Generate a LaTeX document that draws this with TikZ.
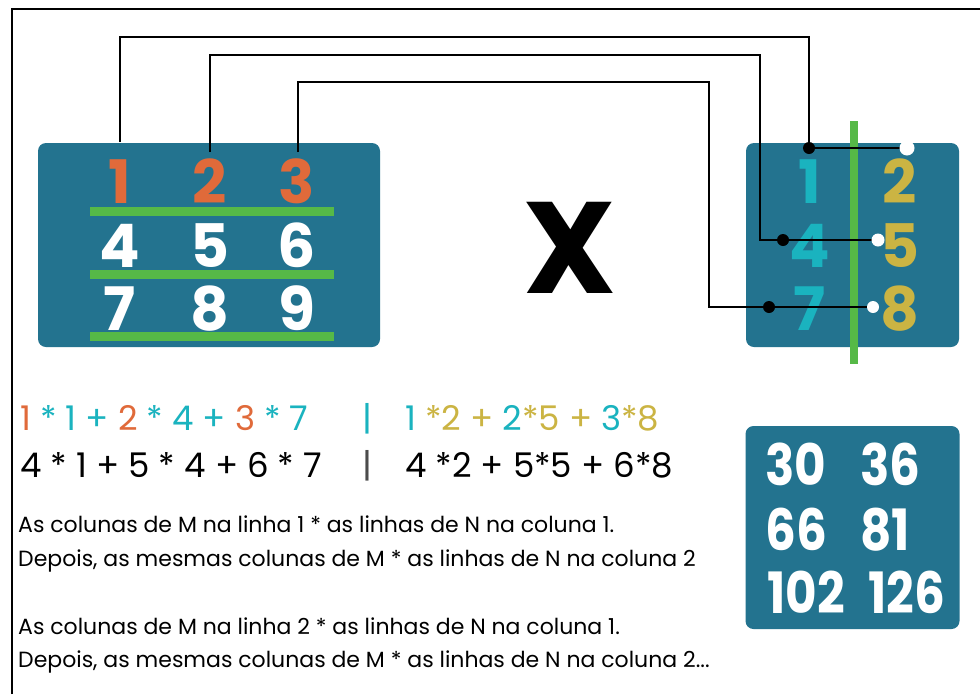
\documentclass[tikz,border=0pt]{standalone}
\usepackage{fontspec}
\setmainfont{Poppins}
\newfontfamily\numfont[FakeStretch=0.85]{Poppins}
\definecolor{boxblue}{RGB}{35,115,143}
\definecolor{org}{RGB}{224,106,58}
\definecolor{grn}{RGB}{86,185,71}
\definecolor{cy}{RGB}{26,179,191}
\definecolor{gld}{RGB}{203,180,67}
\begin{document}
\begin{tikzpicture}[x=1pt,y=-1pt,
  panel/.style={fill=boxblue,rounded corners=8pt,inner sep=0pt},
  bigdig/.style={inner sep=0pt,anchor=base,font=\fontsize{60}{60}\selectfont\bfseries},
  bar/.style={grn,line width=9pt},
  wire/.style={line width=1.3pt,black},
  bdot/.style={circle,fill=black,inner sep=0pt,minimum size=12pt},
  wdot/.style={circle,fill=white,inner sep=0pt,minimum size=13pt},
  formula/.style={inner sep=0pt,anchor=base west,font=\fontsize{34}{34}\selectfont},
  desc/.style={inner sep=0pt,anchor=base west,font=\fontsize{22}{22}\selectfont},
  res/.style={inner sep=0pt,anchor=base west,font=\numfont\fontsize{57}{57}\selectfont\bfseries,text=white}
]
\useasboundingbox (0,0) rectangle (980,694);
\fill[white] (0,0) rectangle (980,694);
\draw[line width=2pt] (12,694) -- (12,9) -- (980,9);

% left matrix
\node[panel,minimum width=342pt,minimum height=204pt] (M) at (209,245) {};
\draw[bar] (90,211) -- (334,211);
\draw[bar] (90,274) -- (334,274);
\draw[bar] (90,336) -- (334,336);
\node[bigdig,text=org] (m1) at (120,203) {1};
\node[bigdig,text=org] (m2) at (210,203) {2};
\node[bigdig,text=org] (m3) at (297,203) {3};
\node[bigdig,text=white] (m4) at (120,267) {4};
\node[bigdig,text=white] (m5) at (210,267) {5};
\node[bigdig,text=white] (m6) at (297,267) {6};
\node[bigdig,text=white] (m7) at (120,330) {7};
\node[bigdig,text=white] (m8) at (210,330) {8};
\node[bigdig,text=white] (m9) at (297,330) {9};

% times
\node[inner sep=0pt,anchor=base,font=\fontsize{130}{130}\selectfont\bfseries] (times) at (570,293) {X};

% right matrix
\node[panel,minimum width=213pt,minimum height=204pt] (N) at (852.5,245) {};
\draw[grn,line width=8pt] (854,121) -- (854,364);
\node[bigdig,text=cy] (n1) at (810,203) {1};
\node[bigdig,text=gld] (n2) at (900,203) {2};
\node[bigdig,text=cy] (n4) at (810,267) {4};
\node[bigdig,text=gld] (n5) at (900,267) {5};
\node[bigdig,text=cy] (n7) at (810,330) {7};
\node[bigdig,text=gld] (n8) at (900,330) {8};

% wires
\coordinate (s1) at (120,142);
\coordinate (s2) at (210,152);
\coordinate (s3) at (298,152);
\coordinate (t1) at (0,37);
\coordinate (t2) at (0,55);
\coordinate (t3) at (0,82);
\coordinate (k1) at (809,148);
\coordinate (k2) at (760,240);
\coordinate (k3) at (709,307);
\coordinate (w1p) at (907,148);
\coordinate (w2p) at (878,240);
\coordinate (w3p) at (873,307);
\draw[wire] (s1) -- (s1|-t1) -| (k1) -- (w1p);
\draw[wire] (s2) -- (s2|-t2) -| (k2) -- (w2p);
\draw[wire] (s3) -- (s3|-t3) -| (k3) -- (w3p);
\node[bdot] (b1) at (809,148) {};
\node[bdot] (b2) at (783,240) {};
\node[bdot] (b3) at (769,307) {};
\node[wdot,minimum size=15pt] (w1) at (w1p) {};
\node[wdot] (w2) at (w2p) {};
\node[wdot,minimum size=12pt] (w3) at (w3p) {};

% formulas
\node[formula] (f1) at (20,430) {\textcolor{org}{1}\ \textcolor{cy}{*\ 1\ +}\ \textcolor{org}{2}\ \textcolor{cy}{*\ 4\ +}\ \textcolor{org}{3}\ \textcolor{cy}{*\ 7}};
\node[formula,text=cy] (v1) at (362,430) {|};
\node[formula] (g1) at (405,430) {\textcolor{cy}{1}\ \textcolor{gld}{*2\ +}\ \textcolor{cy}{2}\textcolor{gld}{*5\ +}\ \textcolor{cy}{3}\textcolor{gld}{*8}};
\node[formula] (f2) at (20,477) {4 * 1 + 5 * 4 + 6 * 7};
\node[formula,text=black!70] (v2) at (362,477) {|};
\node[formula] (g2) at (405,477) {4 *2 + 5*5 + 6*8};

% description
\node[desc] (d1) at (18,532) {As colunas de M na linha 1 * as linhas de N na coluna 1.};
\node[desc] (d2) at (18,566) {Depois, as mesmas colunas de M * as linhas de N na coluna 2};
\node[desc] (d3) at (18,634) {As colunas de M na linha 2 * as linhas de N na coluna 1.};
\node[desc] (d4) at (18,667) {Depois, as mesmas colunas de M * as linhas de N na coluna 2...};

% result
\node[panel,minimum width=214pt,minimum height=203pt] (R) at (852.5,527.5) {};
\node[res] (r1) at (765,485) {30};
\node[res] (r2) at (860,485) {36};
\node[res] (r3) at (765,550) {66};
\node[res] (r4) at (860,550) {81};
\node[res] (r5) at (767,613) {102};
\node[res] (r6) at (868,613) {126};
\end{tikzpicture}
\end{document}
